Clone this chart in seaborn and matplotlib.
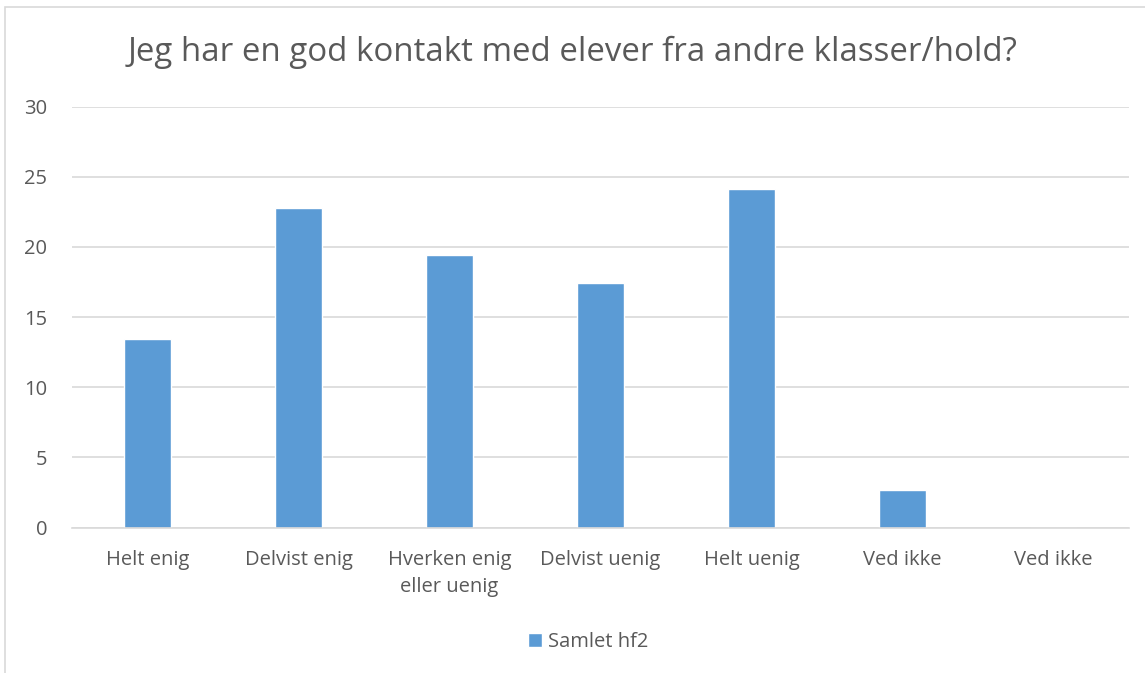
import matplotlib
matplotlib.use("Agg")
import matplotlib.pyplot as plt
import seaborn as sns
import pandas as pd
from matplotlib.patches import Rectangle, Patch

# Survey answers and their shares
categories = ["Helt enig", "Delvist enig", "Hverken enig\neller uenig",
              "Delvist uenig", "Helt uenig", "Ved ikke", "Ved ikke"]
values = [13.43, 22.8, 19.45, 17.44, 24.16, 2.67, 0.0]
series_name = "Samlet hf2"
title = "Jeg har en god kontakt med elever fra andre klasser/hold?"
yticks = [0, 5, 10, 15, 20, 25, 30]

bar_color = "#5B9BD5"
text_color = "#595959"
grid_color = "#D9D9D9"

sns.set_theme(style="white")
plt.rcParams["font.family"] = ["Open Sans", "DejaVu Sans"]

df = pd.DataFrame({"pos": list(range(len(categories))), "value": values})

fig = plt.figure(figsize=(11.45, 6.73), dpi=100)
ax = fig.add_axes([0.0629, 0.216, 0.923, 0.6255])

sns.barplot(data=df, x="pos", y="value", color=bar_color, width=0.31,
            saturation=1, ax=ax, errorbar=None)

ax.set_ylim(0, 30)
ax.set_xlim(-0.5, len(categories) - 0.5)
ax.set_yticks(yticks)
ax.set_yticklabels([str(t) for t in yticks], fontsize=14.5, color=text_color)
ax.set_xticks(range(len(categories)))
ax.set_xticklabels(categories, fontsize=14.5, color=text_color, linespacing=1.45)
ax.tick_params(axis="both", length=0)
ax.tick_params(axis="y", pad=18)
ax.tick_params(axis="x", pad=16)
ax.set_xlabel("")
ax.set_ylabel("")
ax.yaxis.grid(True, color=grid_color, linewidth=1.2)
ax.set_axisbelow(True)
for s in ["top", "right", "left"]:
    ax.spines[s].set_visible(False)
ax.spines["bottom"].set_color(grid_color)
ax.spines["bottom"].set_linewidth(1.2)

fig.text(0.5, 1 - 52 / 673, title, ha="center", va="center",
         fontsize=23.8, color=text_color)

leg = fig.legend(handles=[Patch(facecolor=bar_color, label=series_name)],
                 loc="center", bbox_to_anchor=(0.514, 1 - 642 / 673),
                 frameon=False, fontsize=14.5, handlelength=0.7,
                 handleheight=0.7, handletextpad=0.3)
for t in leg.get_texts():
    t.set_color(text_color)

# Light chart frame
fig.patches.append(Rectangle((5 / 1145, -0.05), 1.1, 1 - 7 / 673 + 0.05,
                             transform=fig.transFigure, fill=False,
                             edgecolor=grid_color, linewidth=1.2))

fig.savefig("out.png", dpi=100)
